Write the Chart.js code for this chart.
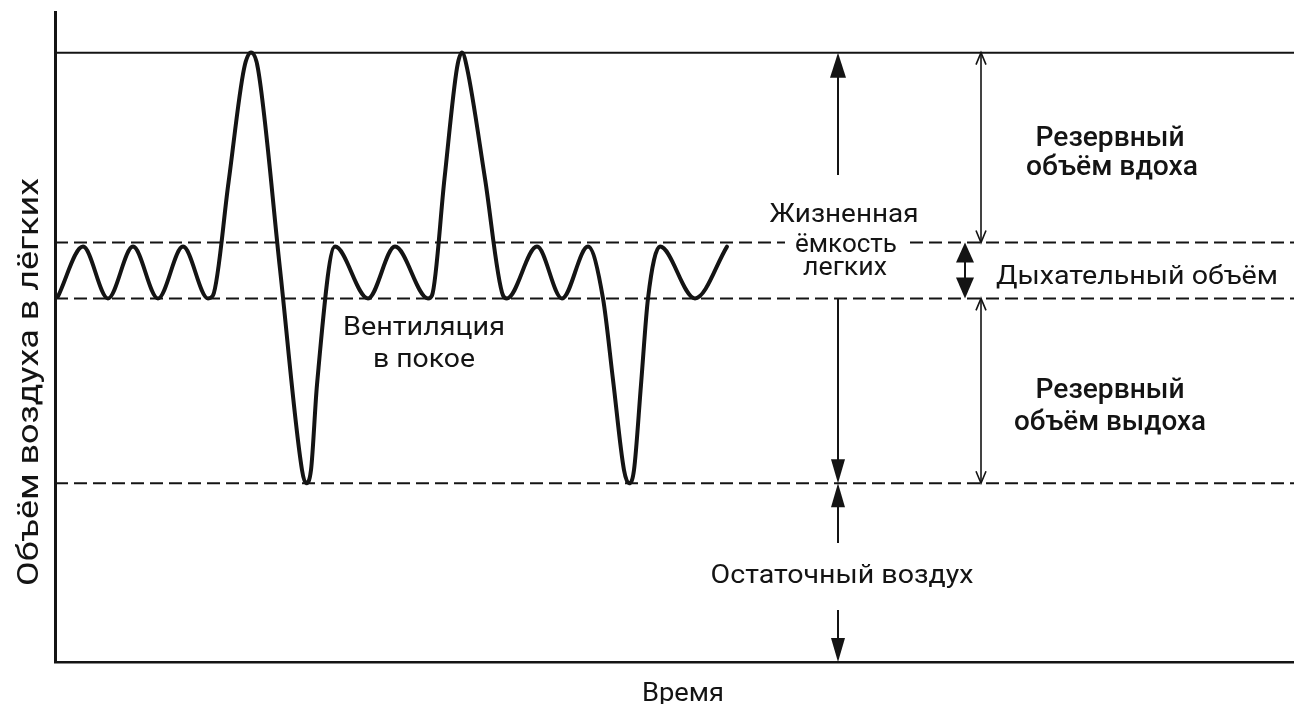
<!DOCTYPE html>
<html>
<head>
<meta charset="utf-8">
<script src="https://cdn.jsdelivr.net/npm/chart.js@4"></script>
<style>
  html, body { margin: 0; padding: 0; background: #fff; }
  canvas { display: block; }
</style>
</head>
<body>
<canvas id="spiro" width="1294" height="704"></canvas>
<script>
// spirogram trace (time in arbitrary units, volume in litres)
var times = [0.15, 1.4, 2.65, 3.9, 5.15, 6.4, 7.65, 7.9, 8.675, 9.45, 9.8, 10.15, 11.25, 12.35, 12.55, 12.8, 13.1,
  14.0, 15.65, 17.0, 18.65, 18.85, 19.475, 20.1, 20.35, 20.6, 21.5, 22.4, 22.6, 24.1, 25.35, 26.65,
  27.4, 27.9, 28.45, 28.7, 28.95, 29.3, 29.65, 30.25, 32.0, 33.6];
var volumes = [3.6, 4.09, 3.58, 4.09, 3.58, 4.09, 3.58, 3.61, 4.72, 5.84, 6.0, 5.84, 3.87, 1.89, 1.76, 1.89, 2.73,
  4.09, 3.58, 4.09, 3.58, 3.61, 4.76, 5.85, 6.0, 5.85, 4.76, 3.61, 3.58, 4.09, 3.58, 4.09,
  3.58, 2.78, 1.89, 1.76, 1.89, 2.73, 3.58, 4.09, 3.58, 4.09];

// reference levels
var totalCapacity = 6.0;
var tidalTop = 4.13;
var restLevel = 3.58;
var residual = 1.76;

var tMax = 61.95;
var vMax = 6.4;

var xAxisTitle = 'Время';
var yAxisTitle = 'Объём воздуха в лёгких';

// annotation texts
var notes = [
  { text: 'Жизненная', t: 39.45, v: 4.33, size: 26, weight: 400, width: 149 },
  { text: 'ёмкость', t: 39.55, v: 4.04, size: 26, weight: 400, width: 102, bg: true },
  { text: 'легких', t: 39.5, v: 3.81, size: 26, weight: 400, width: 84 },
  { text: 'Вентиляция', t: 18.45, v: 3.22, size: 26, weight: 400, width: 162 },
  { text: 'в покое', t: 18.45, v: 2.905, size: 26, weight: 400, width: 102 },
  { text: 'Резервный', t: 52.75, v: 5.08, size: 28, weight: 500, width: 149 },
  { text: 'объём вдоха', t: 52.85, v: 4.795, size: 28, weight: 500, width: 172 },
  { text: 'Дыхательный объём', t: 54.1, v: 3.72, size: 26, weight: 400, width: 282 },
  { text: 'Резервный', t: 52.75, v: 2.6, size: 28, weight: 500, width: 149 },
  { text: 'объём выдоха', t: 52.75, v: 2.284, size: 28, weight: 500, width: 192 },
  { text: 'Остаточный воздух', t: 39.35, v: 0.778, size: 25, weight: 400, width: 263 }
];

var ink = '#141414';
var fontFamily = 'Roboto, "Noto Sans", sans-serif';

function levelLine(v, dashed) {
  return {
    data: [{ x: 0, y: v }, { x: tMax, y: v }],
    borderColor: ink,
    borderWidth: 2,
    borderDash: dashed ? [13, 6] : [],
    pointRadius: 0
  };
}

function drawText(ctx, text, x, y, size, weight, width) {
  ctx.save();
  ctx.font = weight + ' ' + size + 'px ' + fontFamily;
  var w = ctx.measureText(text).width;
  ctx.translate(x, y);
  ctx.scale(width ? width / w : 1, 1);
  ctx.textAlign = 'center';
  ctx.textBaseline = 'alphabetic';
  ctx.fillStyle = ink;
  ctx.fillText(text, 0, 0);
  ctx.restore();
}

// filled arrow head, s = 1 points up, s = -1 points down
function solidHead(ctx, x, tipY, s, len, half) {
  ctx.beginPath();
  ctx.moveTo(x, tipY);
  ctx.lineTo(x - half, tipY + s * len);
  ctx.lineTo(x + half, tipY + s * len);
  ctx.closePath();
  ctx.fill();
}

function openHead(ctx, x, tipY, s, len, half) {
  ctx.beginPath();
  ctx.moveTo(x - half, tipY + s * len);
  ctx.lineTo(x, tipY);
  ctx.lineTo(x + half, tipY + s * len);
  ctx.stroke();
}

function vline(ctx, x, y1, y2) {
  ctx.beginPath();
  ctx.moveTo(x, y1);
  ctx.lineTo(x, y2);
  ctx.stroke();
}

var annotations = {
  id: 'annotations',
  afterDatasetsDraw: function (chart) {
    var ctx = chart.ctx;
    var xs = chart.scales.x, ys = chart.scales.y;
    var X = function (t) { return xs.getPixelForValue(t); };
    var Y = function (v) { return ys.getPixelForValue(v); };
    ctx.save();
    ctx.fillStyle = ink;
    ctx.strokeStyle = ink;

    // vital capacity arrow
    var xv = X(39.15);
    ctx.lineWidth = 2;
    solidHead(ctx, xv, Y(totalCapacity), 1, 25, 8);
    vline(ctx, xv, Y(totalCapacity) + 20, Y(4.795));
    vline(ctx, xv, Y(restLevel), Y(residual) - 20);
    solidHead(ctx, xv, Y(residual), -1, 24, 7);

    // residual air arrows
    solidHead(ctx, xv, Y(residual), 1, 24, 7);
    vline(ctx, xv, Y(residual) + 20, Y(1.172));
    vline(ctx, xv, Y(0.512), Y(0) - 20);
    solidHead(ctx, xv, Y(0), -1, 24, 7);

    // inspiratory / expiratory reserve (thin double arrows)
    var xt = X(46.3);
    ctx.lineWidth = 1.6;
    vline(ctx, xt, Y(totalCapacity), Y(tidalTop));
    openHead(ctx, xt, Y(totalCapacity), 1, 12, 5);
    openHead(ctx, xt, Y(tidalTop), -1, 12, 5);
    vline(ctx, xt, Y(restLevel), Y(residual));
    openHead(ctx, xt, Y(restLevel), 1, 12, 5);
    openHead(ctx, xt, Y(residual), -1, 12, 5);

    // tidal volume (filled double arrow)
    var xd = X(45.5);
    ctx.lineWidth = 2;
    solidHead(ctx, xd, Y(tidalTop), 1, 20, 9);
    vline(ctx, xd, Y(tidalTop) + 18, Y(restLevel) - 18);
    solidHead(ctx, xd, Y(restLevel), -1, 21, 9);

    // labels
    notes.forEach(function (n) {
      var px = X(n.t), py = Y(n.v);
      if (n.bg) {
        ctx.fillStyle = '#fff';
        ctx.fillRect(px - n.width / 2 - 10, py - 19, n.width + 20, 23);
      }
      drawText(ctx, n.text, px, py, n.size, n.weight, n.width);
    });

    // axis titles
    drawText(ctx, xAxisTitle, X(31.4), 701, 25, 400, 82);
    ctx.save();
    ctx.translate(38, 382);
    ctx.rotate(-Math.PI / 2);
    drawText(ctx, yAxisTitle, 0, 0, 30, 400, 408);
    ctx.restore();

    ctx.restore();
  }
};

var chart = new Chart(document.getElementById('spiro').getContext('2d'), {
  type: 'line',
  data: {
    datasets: [
      {
        data: times.map(function (t, i) { return { x: t, y: volumes[i] }; }),
        borderColor: ink,
        borderWidth: 4,
        pointRadius: 0,
        cubicInterpolationMode: 'monotone',
        borderCapStyle: 'round',
        borderJoinStyle: 'round'
      },
      levelLine(totalCapacity, false),
      levelLine(tidalTop, true),
      levelLine(restLevel, true),
      levelLine(residual, true)
    ]
  },
  options: {
    responsive: false,
    animation: false,
    layout: { padding: { left: 55, right: 0, top: 12, bottom: 42 } },
    plugins: { legend: { display: false }, tooltip: { enabled: false } },
    scales: {
      x: {
        type: 'linear', min: 0, max: tMax,
        grid: { display: false, drawTicks: false },
        ticks: { display: false },
        border: { display: true, color: ink, width: 2.5 }
      },
      y: {
        min: 0, max: vMax,
        grid: { display: false, drawTicks: false },
        ticks: { display: false },
        border: { display: true, color: ink, width: 3 }
      }
    }
  },
  plugins: [annotations]
});
</script>
</body>
</html>
